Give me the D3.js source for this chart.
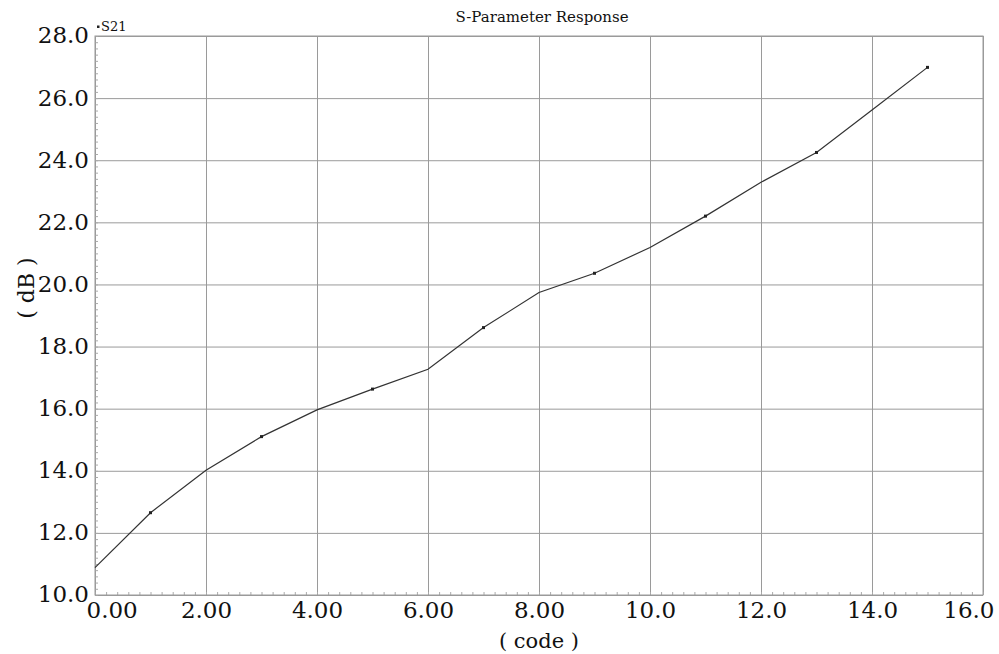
<!DOCTYPE html>
<html>
<head>
<meta charset="utf-8">
<script src="https://cdn.jsdelivr.net/npm/d3@7"></script>
<style>
  body { margin: 0; background: #fff; }
</style>
</head>
<body>
<div id="chart"></div>
<script>
// Данные S21 по кодам
const codes = [0, 1, 2, 3, 4, 5, 6, 7, 8, 9, 10, 11, 12, 13, 14, 15];
const s21 = [10.88, 12.65, 14.02, 15.10, 15.96, 16.63, 17.27, 18.61, 19.74, 20.36, 21.19, 22.20, 23.29, 24.25, 25.62, 26.99];
const markerCodes = [1, 3, 5, 7, 9, 11, 13, 15];
const xTicks = [0, 2, 4, 6, 8, 10, 12, 14, 16];
const yTicks = [10, 12, 14, 16, 18, 20, 22, 24, 26, 28];

const FONT = "'DejaVu Serif', 'Liberation Serif', serif";

const width = 999;
const height = 654;
const margin = { top: 36, right: 16, bottom: 59, left: 95 };
const innerW = width - margin.left - margin.right;
const innerH = height - margin.top - margin.bottom;

const svg = d3
  .select("#chart")
  .append("svg")
  .attr("width", width)
  .attr("height", height)
  .attr("font-family", FONT);

const g = svg
  .append("g")
  .attr("transform", `translate(${margin.left},${margin.top})`);

const xScale = d3.scaleLinear().domain([0, 16]).range([0, innerW]);
const yScale = d3.scaleLinear().domain([10, 28]).range([innerH, 0]);

// Сетка
g.append("g")
  .attr("transform", `translate(0,${innerH})`)
  .call(d3.axisBottom(xScale).tickValues(xTicks).tickSize(-innerH).tickFormat(""))
  .call((s) => s.select(".domain").remove())
  .selectAll("line")
  .attr("stroke", "#9a9a9a");

g.append("g")
  .call(d3.axisLeft(yScale).tickValues(yTicks).tickSize(-innerW).tickFormat(""))
  .call((s) => s.select(".domain").remove())
  .selectAll("line")
  .attr("stroke", "#9a9a9a");

// Мелкие засечки внутри области
g.append("g")
  .attr("transform", `translate(0,${innerH})`)
  .call(d3.axisBottom(xScale).tickValues(d3.range(0, 16.01, 0.2)).tickSize(-3).tickFormat(""))
  .call((s) => s.select(".domain").remove())
  .selectAll("line")
  .attr("stroke", "#aaa");

g.append("g")
  .call(d3.axisLeft(yScale).tickValues(d3.range(10, 28.01, 0.2)).tickSize(-3).tickFormat(""))
  .call((s) => s.select(".domain").remove())
  .selectAll("line")
  .attr("stroke", "#aaa");

// Рамка
g.append("rect")
  .attr("width", innerW)
  .attr("height", innerH)
  .attr("fill", "none")
  .attr("stroke", "#9a9a9a");

// Подписи осей
const fmt = d3.format(".3r");

const xAxis = g
  .append("g")
  .attr("transform", `translate(0,${innerH})`)
  .call(d3.axisBottom(xScale).tickValues(xTicks).tickSize(0).tickPadding(7).tickFormat(fmt));
xAxis.attr("font-family", FONT).attr("font-size", 23);
xAxis.select(".domain").remove();
xAxis
  .selectAll("text")
  .attr("fill", "#111")
  .attr("dy", "0.71em")
  .attr("text-anchor", (d) => (d === 0 ? "start" : d === 16 ? "end" : "middle"))
  .attr("dx", (d) => (d === 0 ? -9 : d === 16 ? 11 : 0));

const yAxis = g
  .append("g")
  .call(d3.axisLeft(yScale).tickValues(yTicks).tickSize(0).tickPadding(6).tickFormat(fmt));
yAxis.attr("font-family", FONT).attr("font-size", 23);
yAxis.select(".domain").remove();
yAxis.selectAll("text").attr("fill", "#111").attr("dy", "0.3em");

// Линия
const line = d3
  .line()
  .x((d, i) => xScale(codes[i]))
  .y((d) => yScale(d));

g.append("path")
  .datum(s21)
  .attr("fill", "none")
  .attr("stroke", "#333")
  .attr("stroke-width", 1.2)
  .attr("d", line);

g.selectAll(".marker")
  .data(markerCodes)
  .join("rect")
  .attr("class", "marker")
  .attr("x", (d) => xScale(d) - 1.5)
  .attr("y", (d) => yScale(s21[codes.indexOf(d)]) - 1.5)
  .attr("width", 3)
  .attr("height", 3)
  .attr("fill", "#222");

// Заголовки
svg.append("text")
  .attr("x", 542)
  .attr("y", 22)
  .attr("text-anchor", "middle")
  .attr("font-size", 15)
  .attr("fill", "#111")
  .text("S-Parameter Response");

svg.append("rect")
  .attr("x", 97)
  .attr("y", 25.5)
  .attr("width", 2.5)
  .attr("height", 2.5)
  .attr("fill", "#222");

svg.append("text")
  .attr("x", 101)
  .attr("y", 31)
  .attr("font-size", 13)
  .attr("fill", "#111")
  .text("S21");

svg.append("text")
  .attr("x", margin.left + innerW / 2)
  .attr("y", 648)
  .attr("text-anchor", "middle")
  .attr("font-size", 21)
  .attr("fill", "#111")
  .text("( code )");

svg.append("text")
  .attr("transform", `translate(34,288) rotate(-90)`)
  .attr("text-anchor", "middle")
  .attr("font-size", 22)
  .attr("fill", "#111")
  .text("( dB )");
</script>
</body>
</html>
